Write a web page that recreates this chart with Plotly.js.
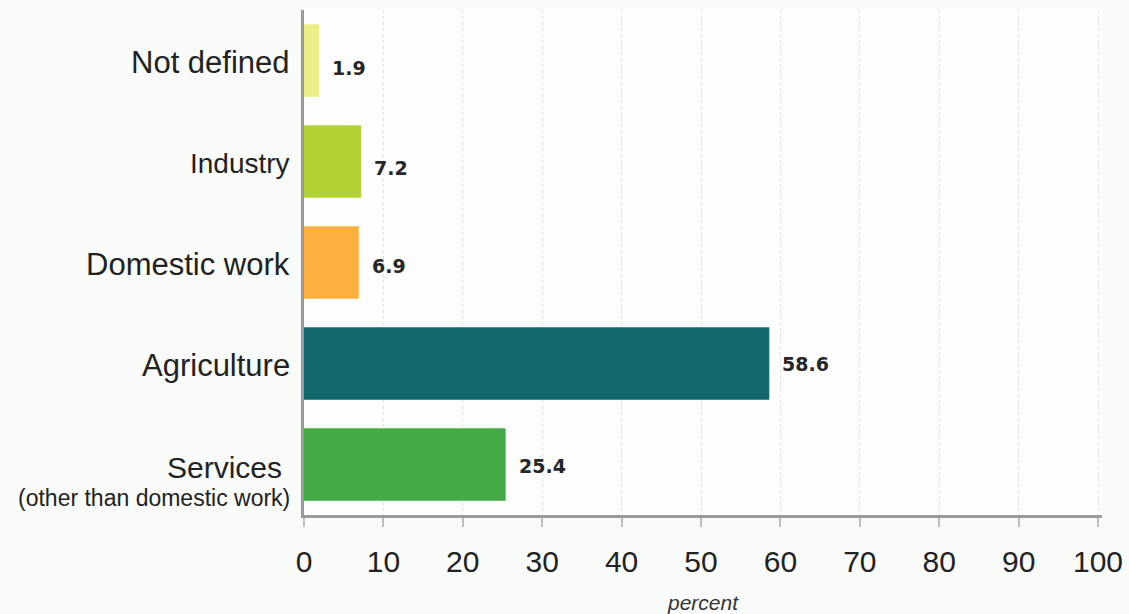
<!DOCTYPE html>
<html>
<head>
<meta charset="utf-8">
<script src="https://cdn.plot.ly/plotly-3.0.1.min.js"></script>
<style>html,body{margin:0;padding:0;background:#f9fbf9;}#chart{width:1129px;height:614px;}</style>
</head>
<body>
<div id="chart"></div>
<script>
var categories = ["Services", "Agriculture", "Domestic work", "Industry", "Not defined"];
var subLabels = ["(other than domestic work)", "", "", "", ""];
var values = [25.4, 58.6, 6.9, 7.2, 1.9];
var colors = ["#43aa45", "#12676a", "#fbb040", "#b2d235", "#eded87"];
var labelSizes = [30, 31, 31, 28, 31];
var xTicks = [0, 10, 20, 30, 40, 50, 60, 70, 80, 90, 100];

var valueShift = [-1, 0, -3, -6, -7];

var trace = {
  type: "bar",
  orientation: "h",
  y: categories,
  x: values,
  marker: {color: colors},
  hoverinfo: "none"
};

var annotations = [];
for (var i = 0; i < categories.length; i++) {
  annotations.push({
    xref: "x", yref: "y", x: values[i], y: categories[i],
    text: values[i].toFixed(1), showarrow: false,
    xanchor: "left", yanchor: "middle", xshift: 11, yshift: valueShift[i],
    font: {family: "DejaVu Sans", size: 19, color: "#262626", weight: "bold"}
  });
  var hasSub = subLabels[i] !== "";
  annotations.push({
    xref: "paper", yref: "y", x: 0, y: categories[i],
    text: categories[i], showarrow: false,
    xanchor: "right", yanchor: "middle", xshift: hasSub ? -20 : -12, yshift: hasSub ? -3 : -2,
    font: {family: "Liberation Sans, Arial, sans-serif", size: labelSizes[i], color: "#222222"}
  });
  if (hasSub) {
    annotations.push({
      xref: "paper", yref: "y", x: 0, y: categories[i],
      text: subLabels[i], showarrow: false,
      xanchor: "right", yanchor: "middle", xshift: -12, yshift: -33,
      font: {family: "Liberation Sans, Arial, sans-serif", size: 23, color: "#222222"}
    });
  }
}

var layout = {
  width: 1129, height: 614,
  margin: {l: 304, r: 27, t: 10, b: 99},
  paper_bgcolor: "#f9fbf9",
  plot_bgcolor: "#fcfdfc",
  showlegend: false,
  bargap: 0.28,
  xaxis: {
    range: [0, 100.5],
    tickvals: xTicks,
    ticktext: xTicks.map(String),
    showgrid: true, gridcolor: "#e0e0e0", griddash: "3px,3px", gridwidth: 1,
    zeroline: false,
    showline: true, linecolor: "#9a9a9e", linewidth: 3,
    ticks: "outside", ticklen: 9, tickwidth: 2, tickcolor: "#c0c0c4",
    ticklabelstandoff: 9,
    tickfont: {family: "Liberation Sans, Arial, sans-serif", size: 30, color: "#222222"},
    title: {text: "percent", standoff: 20, font: {family: "Liberation Sans, Arial, sans-serif", size: 21, color: "#333333", style: "italic"}},
    fixedrange: true
  },
  yaxis: {
    showticklabels: false,
    showgrid: false, zeroline: false,
    showline: true, linecolor: "#9a9a9e", linewidth: 3,
    ticks: "",
    range: [-0.5, 4.5],
    fixedrange: true
  },
  annotations: annotations
};

Plotly.newPlot("chart", [trace], layout, {displayModeBar: false, staticPlot: true});
</script>
</body>
</html>
